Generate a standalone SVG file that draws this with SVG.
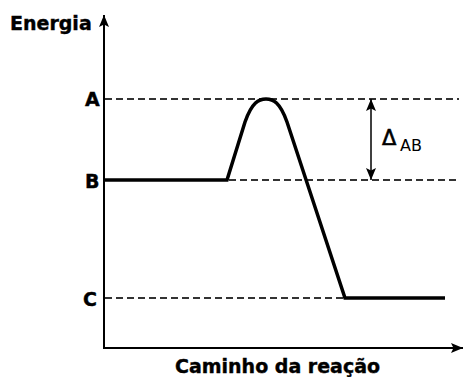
<svg xmlns="http://www.w3.org/2000/svg" width="465" height="377" viewBox="0 0 465 377">
<defs>
<style>
.lbl{font-family:"DejaVu Sans","Verdana",sans-serif;font-weight:bold;font-size:19px;fill:#000;stroke:#000;stroke-width:0.4}
.sym{font-family:"DejaVu Sans",sans-serif;font-size:21px;fill:#000;stroke:#000;stroke-width:0.6}
.sub{font-family:"DejaVu Sans",sans-serif;font-size:16px;fill:#000}
.dash{stroke:#333;stroke-width:2;stroke-dasharray:7 4;fill:none}
.axis{stroke:#000;stroke-width:2;fill:none}
.curve{stroke:#000;stroke-width:3.5;fill:none;stroke-linejoin:miter}
</style>
<marker id="ah" viewBox="0 0 12 10" refX="12" refY="5" markerWidth="12" markerHeight="10" markerUnits="userSpaceOnUse" orient="auto-start-reverse">
<path d="M0,0 L12,5 L0,10 L2.5,5 Z" fill="#000"/>
</marker>
</defs>
<g id="connectors">
<line id="y-axis" class="axis" x1="104" y1="349" x2="104" y2="15" marker-end="url(#ah)"/>
<line id="x-axis" class="axis" x1="103" y1="348" x2="463" y2="348" marker-end="url(#ah)"/>
<line class="dash" x1="105" y1="99" x2="459" y2="99"/>
<line class="dash" x1="229" y1="180" x2="459" y2="180"/>
<line class="dash" x1="105" y1="298" x2="344" y2="298"/>
<line id="delta-arrow" stroke="#000" stroke-width="1.5" x1="371" y1="99" x2="371" y2="180" marker-start="url(#ah)" marker-end="url(#ah)"/>
<path id="energy-curve" class="curve" d="M105,180 L227,180 L245,122 C252,102 259,99 266,99 C273,99 280,102 287,122 L345,298 L445,298"/>
</g>
<g id="label-energia"><text class="lbl" x="10" y="30">Energia</text></g>
<g id="label-a"><text class="lbl" x="85" y="106">A</text></g>
<g id="label-b"><text class="lbl" x="85" y="188">B</text></g>
<g id="label-c"><text class="lbl" x="83" y="306">C</text></g>
<g id="label-delta"><text class="sym" x="382" y="145">Δ</text><text class="sub" x="400" y="151">AB</text></g>
<g id="label-caminho"><text class="lbl" x="175" y="373">Caminho da reação</text></g>
</svg>
